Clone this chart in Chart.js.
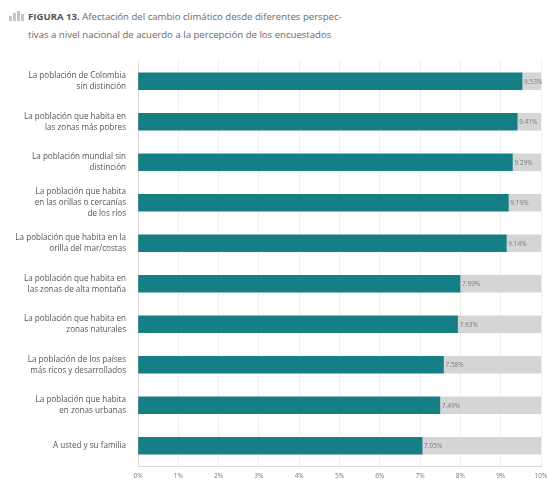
<!DOCTYPE html>
<html>
<head>
<meta charset="utf-8">
<script src="https://cdn.jsdelivr.net/npm/chart.js@4/dist/chart.umd.min.js"></script>
<style>
  html, body { margin: 0; padding: 0; background: #fff; }
  #wrap { position: relative; width: 548px; height: 483px; overflow: hidden; }
  #title { position: absolute; left: 28px; top: 8px; width: 360px; font-family: "Open Sans", sans-serif; font-size: 9.6px; line-height: 18px; color: #6a6a6a; }
  #title b { color: #555; }
  #icon { position: absolute; left: 9px; top: 11px; width: 17px; height: 10px; }
  #icon span { position: absolute; bottom: 0; width: 3px; background: #c4c4c4; }
  canvas { position: absolute; left: 0; top: 0; }
</style>
</head>
<body>
<div id="wrap">
  <div id="icon"><span style="left:0;height:5px"></span><span style="left:4px;height:8px"></span><span style="left:8px;height:10px"></span><span style="left:12px;height:7px"></span></div>
  <div id="title"><b>FIGURA 13.</b> Afectación del cambio climático desde diferentes perspec-<br>tivas a nivel nacional de acuerdo a la percepción de los encuestados</div>
  <canvas id="c" width="548" height="483"></canvas>
</div>
<script>
const categories = [
  ["La población de Colombia", "sin distinción"],
  ["La población que habita en", "las zonas más pobres"],
  ["La población mundial sin", "distinción"],
  ["La población que habita", "en las orillas o cercanías", "de los ríos"],
  ["La población que habita en la", "orilla del mar/costas"],
  ["La población que habita en", "las zonas de alta montaña"],
  ["La población que habita en", "zonas naturales"],
  ["La población de los países", "más ricos y desarrollados"],
  ["La población que habita", "en zonas urbanas"],
  ["A usted y su familia"]
];
const values = [9.53, 9.41, 9.29, 9.19, 9.14, 7.99, 7.93, 7.58, 7.49, 7.05];
const scaleMax = 10;
const tickValues = [0, 1, 2, 3, 4, 5, 6, 7, 8, 9, 10];
const remainder = values.map(v => +(scaleMax - v).toFixed(2));

const valueLabels = {
  id: 'valueLabels',
  afterDatasetsDraw(chart) {
    const ctx = chart.ctx;
    const meta = chart.getDatasetMeta(0);
    ctx.save();
    ctx.font = '6.5px "Open Sans", sans-serif';
    ctx.fillStyle = '#7a7a7a';
    ctx.textAlign = 'left';
    ctx.textBaseline = 'middle';
    meta.data.forEach((bar, i) => {
      ctx.fillText(values[i].toFixed(2) + '%', bar.x + 2, bar.y + 0.5);
    });
    ctx.restore();
  }
};

new Chart(document.getElementById('c'), {
  type: 'bar',
  data: {
    labels: categories,
    datasets: [
      { data: values, backgroundColor: '#167f86', barThickness: 17, stack: 's' },
      { data: remainder, backgroundColor: '#d5d5d5', barThickness: 17, stack: 's' }
    ]
  },
  options: {
    indexAxis: 'y',
    responsive: false,
    animation: false,
    layout: { padding: { top: 61, right: 7, left: 0, bottom: 0 } },
    plugins: { legend: { display: false }, tooltip: { enabled: false }, title: { display: false } },
    scales: {
      x: {
        stacked: true,
        min: 0, max: scaleMax,
        afterBuildTicks(scale) { scale.ticks = tickValues.map(v => ({ value: v })); },
        afterFit(scale) { scale.height = 17; scale.paddingRight = 0; scale.paddingLeft = 0; },
        ticks: {
          callback: v => v + '%',
          font: { family: '"Open Sans", sans-serif', size: 6.5 },
          color: '#777',
          padding: 6,
          maxRotation: 0
        },
        grid: { color: '#eeeeee', drawTicks: false },
        border: { color: '#d8d8d8' }
      },
      y: {
        stacked: true,
        afterFit(scale) { scale.width = 138; },
        ticks: {
          font: { family: '"Open Sans", sans-serif', size: 8.1, lineHeight: 1.35 },
          color: '#555',
          padding: 4
        },
        grid: { display: false },
        border: { color: '#e6dada' }
      }
    }
  },
  plugins: [valueLabels]
});
</script>
</body>
</html>
